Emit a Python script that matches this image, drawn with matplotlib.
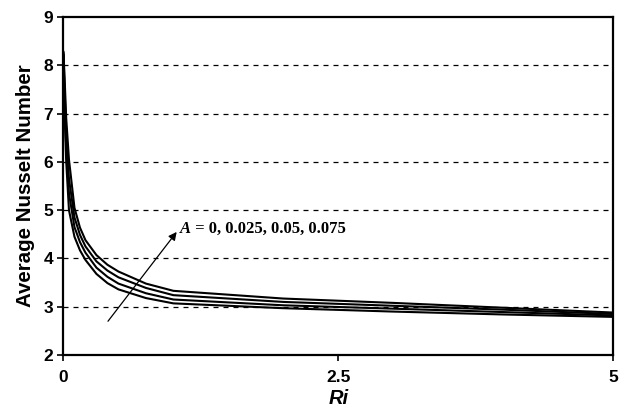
import matplotlib
matplotlib.use("Agg")
import matplotlib.pyplot as plt

# Richardson number samples
ri = [0, 0.01, 0.025, 0.05, 0.1, 0.15, 0.2, 0.3, 0.4, 0.5, 0.75, 1, 2, 3, 4, 5]

# Average Nusselt number for each amplitude A
nu_a0000 = [8.20, 7.00, 6.00, 5.00, 4.45, 4.17, 3.97, 3.68, 3.49, 3.36, 3.18, 3.07, 2.97, 2.90, 2.84, 2.79]
nu_a0025 = [8.22, 7.25, 6.30, 5.35, 4.65, 4.34, 4.12, 3.81, 3.62, 3.48, 3.28, 3.15, 3.03, 2.96, 2.89, 2.82]
nu_a0050 = [8.25, 7.50, 6.60, 5.65, 4.85, 4.49, 4.25, 3.94, 3.75, 3.61, 3.39, 3.24, 3.10, 3.02, 2.94, 2.85]
nu_a0075 = [8.28, 7.75, 6.90, 6.05, 5.05, 4.64, 4.38, 4.07, 3.87, 3.73, 3.48, 3.33, 3.17, 3.08, 2.98, 2.88]

series = [nu_a0000, nu_a0025, nu_a0050, nu_a0075]

x_ticks = [0, 2.5, 5]
x_tick_labels = ["0", "2.5", "5"]
y_ticks = [2, 3, 4, 5, 6, 7, 8, 9]

fig = plt.figure(figsize=(6.26, 4.09), dpi=100)
ax = fig.add_axes([0.1014, 0.132, 0.8778, 0.826])

for y in y_ticks[1:-1]:
    ax.axhline(y, color="black", lw=0.9, linestyle=(0, (4, 4)), zorder=1)

for nu in series:
    ax.plot(ri, nu, color="black", lw=1.5, solid_joinstyle="round", zorder=3)

ax.set_xlim(0, 5)
ax.set_ylim(2, 9)
ax.set_xticks(x_ticks)
ax.set_xticklabels(x_tick_labels)
ax.set_yticks(y_ticks)

for sp in ax.spines.values():
    sp.set_linewidth(1.6)
    sp.set_color("black")

ax.tick_params(axis="both", direction="out", length=4.5, width=1.2,
               labelsize=12.5)
ax.tick_params(axis="x", pad=6)
ax.tick_params(axis="y", pad=3)
for lab in ax.get_xticklabels() + ax.get_yticklabels():
    lab.set_fontweight("bold")
    lab.set_fontfamily("Liberation Sans")

ax.set_ylabel("Average Nusselt Number", fontsize=14.8, fontweight="bold",
              fontfamily="Liberation Sans", labelpad=6)
ax.set_xlabel("Ri", fontsize=14.5, fontweight="bold", fontstyle="italic",
              fontfamily="Liberation Sans", labelpad=3)

ax.annotate("", xy=(1.03, 4.55), xytext=(0.405, 2.70),
            arrowprops=dict(arrowstyle="-|>", color="black", lw=0.9,
                            mutation_scale=12, shrinkA=0, shrinkB=0),
            zorder=4)
sym = ax.text(1.06, 4.61, "A", fontsize=12, fontweight="bold",
              fontstyle="italic", fontfamily="Liberation Serif",
              va="center", ha="left", zorder=5)
ax.annotate(" = 0, 0.025, 0.05, 0.075", xy=(1, 0), xycoords=sym,
            va="bottom", ha="left", fontsize=12, fontweight="bold",
            fontfamily="Liberation Serif", zorder=5)

fig.savefig("out.png", dpi=100)
